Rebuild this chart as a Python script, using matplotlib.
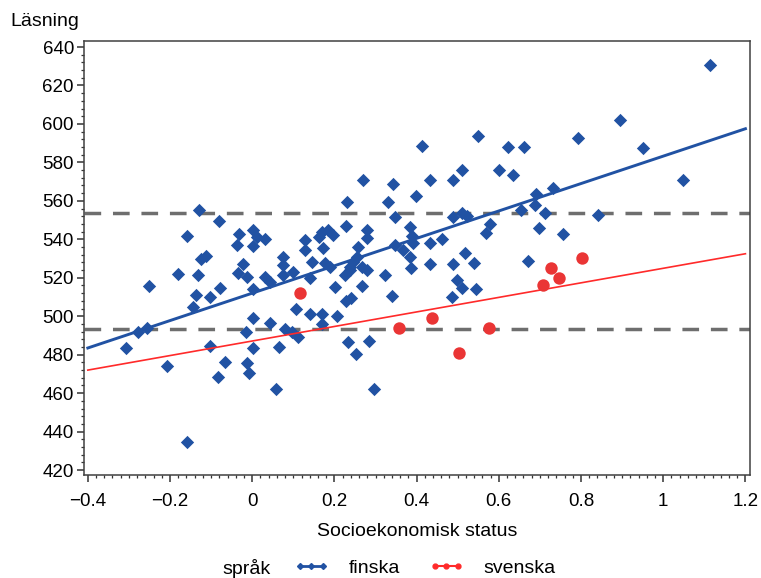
import matplotlib.pyplot as plt
from matplotlib.lines import Line2D
from matplotlib.ticker import MultipleLocator

plt.rcParams['font.family'] = ['Liberation Sans', 'DejaVu Sans']

# finskspråkiga skolor (blå romber): socioekonomisk status och läsning
finska_ses = [-0.307, -0.278, -0.256, -0.208, -0.144, -0.103, -0.083, -0.066, -0.159, -0.015,
              0.002, -0.013, -0.008, 0.002, 0.043, 0.058, 0.065, 0.080, 0.097, 0.107,
              0.111, 0.141, 0.170, 0.170, 0.206, 0.233, 0.253, 0.284, 0.297, 0.228,
              0.240, 0.340,
              -0.130, -0.081, -0.159, -0.032, -0.037, 0.002, 0.002, -0.125, -0.113, -0.022,
              -0.181, -0.132, -0.035, -0.013, -0.251, -0.079, -0.137, -0.103, 0.002,
              0.270, 0.343, 0.399, 0.231, 0.331, 0.348, 0.228, 0.384, 0.012, 0.031,
              0.170, 0.185, 0.197, 0.163, 0.128, 0.280, 0.280, 0.389, 0.392, 0.128,
              0.172, 0.258, 0.348, 0.367, 0.075, 0.146, 0.255, 0.245, 0.238, 0.267,
              0.075, 0.099, 0.177, 0.189, 0.238, 0.226, 0.280, 0.385, 0.386, 0.031,
              0.043, 0.075, 0.141, 0.323, 0.202, 0.267,
              0.413, 0.550, 0.623, 0.662, 0.793, 0.511, 0.433, 0.489, 0.601, 0.635,
              0.691, 0.732, 0.489, 0.511, 0.523, 0.655, 0.689, 0.713, 0.579, 0.569,
              0.698, 0.757, 0.433, 0.462, 0.518, 0.433, 0.489, 0.540, 0.672, 0.499,
              0.511, 0.545, 0.487,
              1.115, 0.896, 0.952, 1.047, 0.842]
finska_las = [483.5, 491.8, 493.9, 474.1, 504.8, 484.5, 468.4, 476.2, 434.6, 491.8,
              499.1, 475.7, 470.5, 483.5, 496.5, 462.2, 484.0, 493.4, 491.8, 503.8,
              489.2, 501.2, 501.2, 496.0, 500.1, 486.6, 480.3, 487.1, 462.2, 508.0,
              509.5, 510.5,
              555.2, 549.5, 541.7, 542.8, 537.0, 544.8, 536.5, 530.0, 531.5, 527.2,
              522.0, 521.4, 522.5, 520.4, 515.7, 514.7, 511.0, 510.0, 514.2,
              570.8, 568.8, 562.5, 559.4, 559.4, 551.6, 546.9, 546.2, 541.2, 540.2,
              543.8, 544.8, 542.2, 541.2, 539.6, 544.8, 540.7, 541.5, 538.1, 534.4,
              535.5, 536.0, 537.0, 534.4, 530.8, 528.2, 530.8, 528.0, 525.6, 525.6,
              526.6, 523.0, 527.7, 525.6, 524.0, 521.4, 524.0, 531.0, 525.1, 520.4,
              517.8, 521.4, 519.9, 521.4, 515.2, 515.7,
              588.5, 593.7, 588.0, 588.0, 592.7, 576.0, 570.8, 570.8, 576.0, 573.4,
              563.6, 566.7, 551.6, 553.7, 552.1, 555.2, 557.8, 553.7, 548.0, 543.3,
              545.9, 542.8, 538.1, 540.2, 532.9, 527.2, 527.2, 527.7, 528.7, 518.8,
              514.7, 514.2, 510.0,
              630.6, 602.0, 587.5, 570.8, 552.6]

# svenskspråkiga skolor (röda cirklar)
svenska_ses = [0.116, 0.358, 0.438, 0.504, 0.577, 0.708, 0.728, 0.747, 0.803]
svenska_las = [512.1, 493.7, 499.1, 480.8, 493.9, 516.2, 525.1, 519.9, 530.3]

# regressionslinjer, avlästa vid kanterna
linje_x = [-0.4, 1.2]
finska_linje = [483.5, 597.5]
svenska_linje = [472.0, 532.5]

# streckade referensnivåer
ref_nivaer = [553.5, 493.5]

x_ticks = [-0.4, -0.2, 0, 0.2, 0.4, 0.6, 0.8, 1.0, 1.2]
x_tick_labels = ['\u22120.4', '\u22120.2', '0', '0.2', '0.4', '0.6', '0.8', '1', '1.2']
y_ticks = list(range(420, 641, 20))

blue = '#2152a3'
red = '#ea3535'

fig = plt.figure(figsize=(7.61, 5.78), dpi=100)
ax = fig.add_axes([0.110, 0.178, 0.876, 0.751])

for niva in ref_nivaer:
    ax.axhline(niva, color='#6e6e6e', lw=2.5, dashes=(4.8, 3.4), zorder=1)

ax.scatter(finska_ses, finska_las, marker='D', s=46, color=blue, linewidths=0, zorder=3)
ax.plot(linje_x, finska_linje, color=blue, lw=2.1, zorder=4)
ax.plot(linje_x, svenska_linje, color='#ff2a2a', lw=1.2, zorder=4)
ax.scatter(svenska_ses, svenska_las, marker='o', s=80, color=red, linewidths=0, zorder=5)

ax.set_xlim(-0.41, 1.212)
ax.set_ylim(417.4, 643.1)
ax.set_xticks(x_ticks)
ax.set_xticklabels(x_tick_labels)
ax.set_yticks(y_ticks)
ax.xaxis.set_minor_locator(MultipleLocator(0.02))
ax.yaxis.set_minor_locator(MultipleLocator(4))
ax.tick_params(which='major', direction='out', length=5, width=1.1, color='#333333',
               labelsize=13.5, pad=2)
ax.tick_params(which='minor', direction='out', length=2.5, width=0.9, color='#333333')
ax.tick_params(axis='x', which='major', pad=8)
for sp in ax.spines.values():
    sp.set_color('#404040')
    sp.set_linewidth(1.1)

fig.text(0.013, 0.963, 'Läsning', fontsize=14, va='center', ha='left')
fig.text(0.548, 0.080, 'Socioekonomisk status', fontsize=14, va='center', ha='center')

# legend
fig.text(0.292, 0.017, 'språk', fontsize=14, va='center', ha='left')
handles = [Line2D([], [], color=blue, lw=2.0, marker='D', markersize=3),
           Line2D([], [], color='#ff2a2a', lw=1.5, marker='o', markersize=3.5)]
fig.legend(handles, ['finska', 'svenska'], loc='center', bbox_to_anchor=(0.558, 0.017),
           ncol=2, frameon=False, fontsize=14, numpoints=3, handlelength=1.8,
           handletextpad=1.0, columnspacing=1.5, borderpad=0)

fig.savefig('out.png', dpi=100)
